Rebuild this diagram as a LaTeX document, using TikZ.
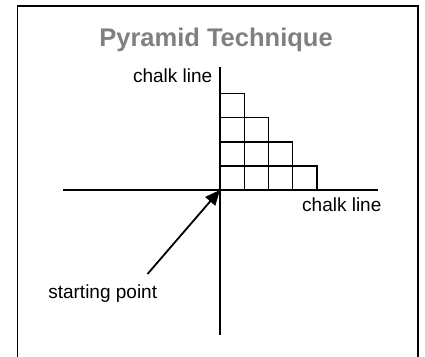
\documentclass[tikz,border=0pt]{standalone}
\usepackage{fontspec}
\setmainfont{Liberation Sans}
\usetikzlibrary{arrows.meta, positioning, calc}

\definecolor{titlegray}{RGB}{128,128,128}

\begin{document}
\begin{tikzpicture}[x=1pt, y=-1pt,
    label/.style={font=\fontsize{19}{19}\selectfont, inner sep=0pt, anchor=base},
    chalk/.style={line width=1.8pt},
    cell/.style={line width=1.4pt}]
                \useasboundingbox (0, 0) rectangle (425, 356);

                % Рамка
                \draw[line width=1.8pt] (17.5, 362) -- (17.5, 6) -- (418, 6) -- (418, 362);

                % Заголовок
                \node[anchor=base, inner sep=0pt, text=titlegray, font=\fontsize{25.5}{25.5}\selectfont\bfseries] (title) at (216, 46.7) {Pyramid Technique};

                % Меловые линии
                \coordinate (origin) at (220, 190);
                \coordinate (vtop) at (220, 67);
                \coordinate (vbot) at (220, 335);
                \coordinate (hleft) at (63, 190);
                \coordinate (hright) at (378, 190);
                \draw[chalk] (vtop) -- (vbot);
                \draw[chalk] (hleft) -- (hright);

                % Пирамида из квадратов
                \foreach \row in {0,...,3} {
                    \pgfmathtruncatemacro{\last}{3-\row}
                    \foreach \col in {0,...,\last} {
                        \draw[cell] ($(origin) + (24.2*\col, -24.1*\row)$) rectangle ++(24.2, -24.1);
                    }
                }

                % Подписи
                \node[label] (chalkup) at (172.7, 82) {chalk line};
                \node[label] (chalkright) at (341.8, 211.7) {chalk line};
                \node[label] (start) at (102.7, 298) {starting point};

                % Стрелка к начальной точке
                \coordinate (tail) at (147.5, 274);
                \draw[line width=1.8pt, -{Triangle[length=15pt, width=13pt]}] (tail) -- (origin);
            \end{tikzpicture}
\end{document}
